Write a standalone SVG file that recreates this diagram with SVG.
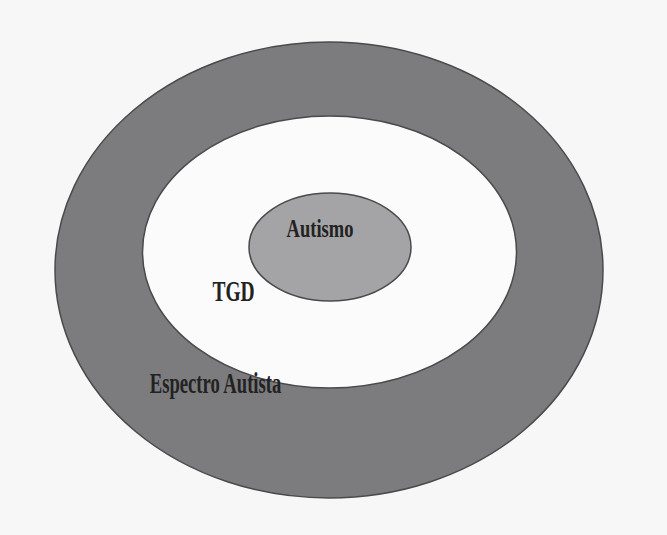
<svg xmlns="http://www.w3.org/2000/svg" width="667" height="535" viewBox="0 0 667 535">
<style>
.lbl{font-family:"Liberation Serif","Times New Roman",serif;font-weight:bold;fill:#222;}
.ring{stroke:#4a4a4c;stroke-width:1.5;}
</style>
<rect width="667" height="535" fill="#f7f7f7"/>
<g id="espectro">
<ellipse class="ring" cx="329" cy="270" rx="274" ry="228" fill="#7c7c7e"/>
</g>
<g id="tgd">
<ellipse class="ring" cx="329.5" cy="252" rx="187" ry="136" fill="#fbfbfb"/>
</g>
<g id="autismo">
<ellipse class="ring" cx="330" cy="247" rx="81" ry="54" fill="#a4a4a6"/>
</g>
<g id="labels">
<text class="lbl" font-size="18.5" transform="translate(320,237) scale(1,1.35)" text-anchor="middle">Autismo</text>
<text class="lbl" font-size="19.5" transform="translate(233.5,301) scale(1,1.5)" text-anchor="middle">TGD</text>
<text class="lbl" font-size="19" transform="translate(215.5,393) scale(0.98,1.5)" text-anchor="middle">Espectro Autista</text>
</g>
<g id="connectors"/>
</svg>
